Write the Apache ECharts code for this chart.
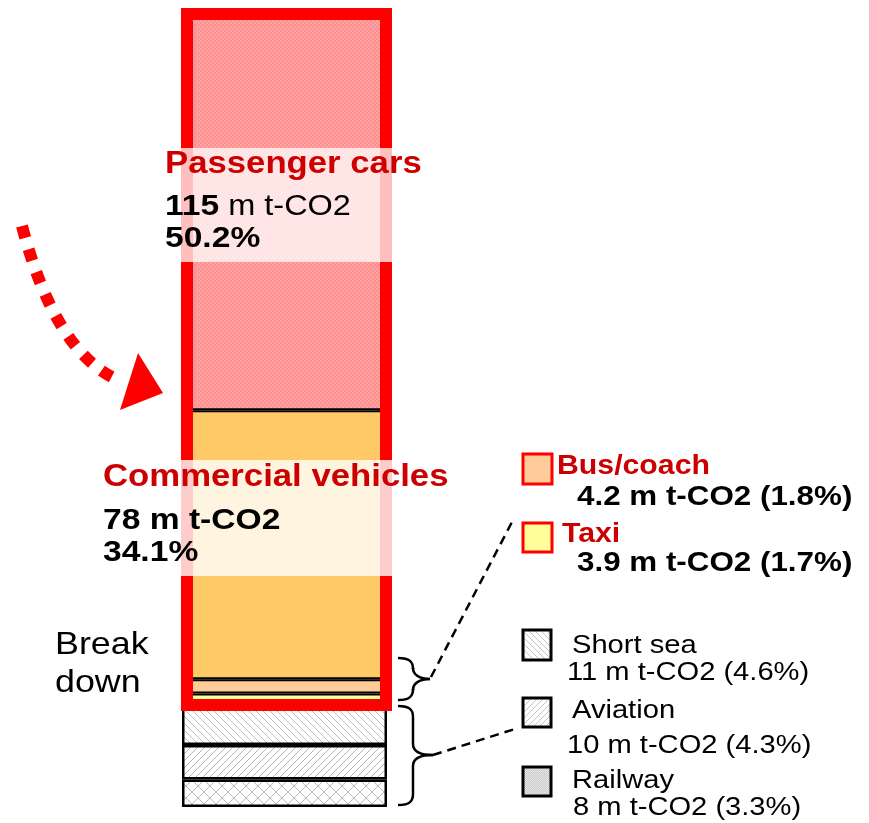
<!DOCTYPE html>
<html>
<head>
<meta charset="utf-8">
<script src="https://cdn.jsdelivr.net/npm/echarts@6/dist/echarts.min.js"></script>
<style>
  html, body { margin: 0; padding: 0; background: #fff; }
  #chart { width: 869px; height: 823px; }
</style>
</head>
<body>
<div id="chart"></div>
<script>
  // stacked from the bottom up
  const segments = ['Railway', 'Aviation', 'Short sea', 'Taxi', 'Bus/coach', 'Commercial vehicles', 'Passenger cars']
  const values = [8, 10, 11, 3.9, 4.2, 78, 115]
  const shares = [3.3, 4.3, 4.6, 1.7, 1.8, 34.1, 50.2]
  const roadStart = 3

  const FONT = '"Liberation Sans", Arial, sans-serif'
  const SX = 1.12

  function makePattern(size, draw) {
    const c = document.createElement('canvas')
    c.width = size
    c.height = size
    const ctx = c.getContext('2d')
    ctx.fillStyle = '#fff'
    ctx.fillRect(0, 0, size, size)
    draw(ctx, size)
    return { image: c, repeat: 'repeat' }
  }

  const checker = makePattern(4, function (ctx) {
    ctx.fillStyle = '#ff8f8f'
    ctx.fillRect(0, 0, 4, 4)
    ctx.fillStyle = '#ffa3a3'
    ctx.fillRect(0, 0, 2, 2)
    ctx.fillRect(2, 2, 2, 2)
  })

  function hatch(size, back, color) {
    return makePattern(size, function (ctx, s) {
      ctx.strokeStyle = color
      ctx.lineWidth = 1
      ctx.beginPath()
      for (let k = -1; k <= 1; k++) {
        if (back) {
          ctx.moveTo(k * s, 0); ctx.lineTo(k * s + s, s)
        } else {
          ctx.moveTo(k * s, s); ctx.lineTo(k * s + s, 0)
        }
      }
      ctx.stroke()
    })
  }

  const crossHatch = makePattern(12, function (ctx, s) {
    ctx.strokeStyle = '#b8b8b8'
    ctx.lineWidth = 1
    ctx.beginPath()
    for (let k = -1; k <= 1; k++) {
      ctx.moveTo(k * s, 0); ctx.lineTo(k * s + s, s)
      ctx.moveTo(k * s, s); ctx.lineTo(k * s + s, 0)
    }
    ctx.stroke()
  })

  const dots = makePattern(2, function (ctx) {
    ctx.fillStyle = '#c8c8c8'
    ctx.fillRect(0, 0, 2, 2)
    ctx.fillStyle = '#e8e8e8'
    ctx.fillRect(0, 0, 1, 1)
    ctx.fillRect(1, 1, 1, 1)
  })

  const fills = [crossHatch, hatch(7, false, '#b4b4b4'), hatch(7, true, '#c0c0c0'),
    '#ffff99', '#ffcc99', '#fec966', checker]

  const total = values.reduce((a, b) => a + b, 0)
  const offRoad = values.slice(0, roadStart).reduce((a, b) => a + b, 0)
  const road = total - offRoad

  const mt = (i) => values[i] + ' m t-CO2 (' + shares[i] + '%)'

  const series = segments.map(function (name, i) {
    return {
      name: name,
      type: 'bar',
      stack: 'all',
      xAxisIndex: 0,
      yAxisIndex: 0,
      barWidth: 205,
      itemStyle: {
        color: fills[i],
        borderColor: '#000',
        borderWidth: i < roadStart ? 2.5 : 2
      },
      data: [values[i]]
    }
  })
  // red frame round the road transport part
  series.push({
    type: 'bar', stack: 'frame', xAxisIndex: 1, yAxisIndex: 1, barWidth: 211,
    itemStyle: { color: 'transparent' }, data: [offRoad], z: 3
  })
  series.push({
    type: 'bar', stack: 'frame', xAxisIndex: 1, yAxisIndex: 1, barWidth: 211,
    itemStyle: { color: 'transparent', borderColor: '#ff0000', borderWidth: 12 },
    data: [road], z: 3
  })

  function txt(x, y, text, size, bold, color, extra) {
    const o = {
      type: 'text', x: x, y: y, scaleX: SX, z: 20,
      style: {
        text: text,
        font: (bold ? 'bold ' : '') + size + 'px ' + FONT,
        fill: color || '#000',
        textAlign: 'left', textVerticalAlign: 'middle',
        align: 'left', verticalAlign: 'middle'
      }
    }
    if (extra) Object.assign(o.style, extra)
    return o
  }

  function box(x, y, w, h, fill, stroke) {
    return { type: 'rect', z: 20, shape: { x: x, y: y, width: w, height: h },
      style: { fill: fill, stroke: stroke, lineWidth: 3 } }
  }

  const lineStyle = { fill: 'none', stroke: '#000', lineWidth: 2.5 }
  function curve(x1, y1, c1x, c1y, c2x, c2y, x2, y2) {
    return { type: 'bezierCurve', z: 20, style: lineStyle,
      shape: { x1: x1, y1: y1, cpx1: c1x, cpy1: c1y, cpx2: c2x, cpy2: c2y, x2: x2, y2: y2 } }
  }
  function seg(x1, y1, x2, y2, dash) {
    return { type: 'line', z: 20, shape: { x1: x1, y1: y1, x2: x2, y2: y2 },
      style: Object.assign({}, lineStyle, dash ? { lineDash: dash } : {}) }
  }
  // curly brace opening to the right: ends at x0, spine at xs, tip at xt
  function brace(x0, xs, xt, top, mid, bot) {
    return [
      curve(x0, top, x0 + 12, top, xs, top + 4, xs, top + 11),
      seg(xs, top + 11, xs, mid - 11),
      curve(xs, mid - 11, xs, mid - 4, xs + 7, mid, xt, mid),
      curve(xt, mid, xs + 7, mid, xs, mid + 4, xs, mid + 11),
      seg(xs, mid + 11, xs, bot - 11),
      curve(xs, bot - 11, xs, bot - 4, x0 + 12, bot, x0, bot)
    ]
  }

  const P = values.length - 1, C = values.length - 2
  const graphic = [
    // translucent label backdrops
    { type: 'rect', z: 15, shape: { x: 181, y: 148, width: 211, height: 114 },
      style: { fill: 'rgba(255,255,255,0.75)' } },
    { type: 'rect', z: 15, shape: { x: 181, y: 460, width: 211, height: 116 },
      style: { fill: 'rgba(255,255,255,0.8)' } },

    txt(165, 164, segments[P], 31, true, '#cc0000'),
    txt(165, 207, '{b|' + values[P] + '}{r| m t-CO2}', 29, false, '#000', {
      rich: {
        b: { font: 'bold 30px ' + FONT, fill: '#000' },
        r: { font: '29px ' + FONT, fill: '#000' }
      }
    }),
    txt(165, 239, shares[P] + '%', 30, true),

    txt(103, 477, segments[C], 31, true, '#cc0000'),
    txt(103, 521, values[C] + ' m t-CO2', 30, true),
    txt(103, 553, shares[C] + '%', 30, true),

    txt(55, 645, 'Break', 32, false),
    txt(55, 683, 'down', 32, false),

    // legend, road part
    box(523, 454, 29, 30, '#ffcc99', '#ff0000'),
    txt(557, 467, segments[4], 27, true, '#cc0000'),
    txt(577, 497, mt(4), 28, true),
    box(523, 523, 29, 29, '#ffff99', '#ff0000'),
    txt(562, 535, segments[3], 27, true, '#cc0000'),
    txt(577, 563, mt(3), 28, true),

    // legend, other modes
    box(523, 630, 28, 30, hatch(6, true, '#c4c4c4'), '#000'),
    txt(572, 646, segments[2], 26, false),
    txt(567, 673, mt(2), 26, false),
    box(523, 698, 28, 29, hatch(6, false, '#c4c4c4'), '#000'),
    txt(572, 711, segments[1], 26, false),
    txt(567, 746, mt(1), 26, false),
    box(523, 767, 28, 29, dots, '#000'),
    txt(572, 781, segments[0], 26, false),
    txt(573, 808, mt(0), 26, false),

    // braces and leader lines
    ...brace(398, 413, 430, 658, 679, 700),
    ...brace(398, 413, 433, 706, 755, 805),
    seg(431, 677, 512, 522, [9, 6]),
    seg(433, 755, 518, 728, [9, 6]),

    // dotted red arrow
    { type: 'bezierCurve', z: 20,
      shape: { x1: 22, y1: 226, cpx1: 55, cpy1: 352, x2: 118, y2: 380 },
      style: { fill: 'none', stroke: '#ff0000', lineWidth: 12, lineDash: [12, 12] } },
    { type: 'polygon', z: 20,
      shape: { points: [[138, 353], [163, 393], [120, 410]] },
      style: { fill: '#ff0000' } }
  ]

  const option = {
    animation: false,
    backgroundColor: '#fff',
    grid: [
      { left: 182, right: 482, top: 14, bottom: 16 },
      { left: 181, right: 477, top: 8, bottom: 10.6 }
    ],
    xAxis: [
      { type: 'category', gridIndex: 0, data: ['Transport'], show: false },
      { type: 'category', gridIndex: 1, data: ['Transport'], show: false }
    ],
    yAxis: [
      { type: 'value', gridIndex: 0, min: 0, max: total, show: false },
      { type: 'value', gridIndex: 1, min: 0, max: total, show: false }
    ],
    series: series,
    graphic: graphic
  }

  const myChart = echarts.init(document.getElementById('chart'))
  myChart.setOption(option)
</script>
</body>
</html>
